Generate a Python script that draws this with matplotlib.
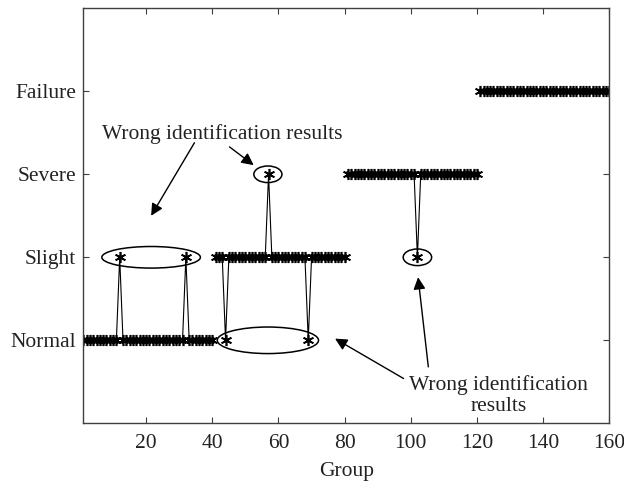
import numpy as np
import matplotlib.pyplot as plt
from matplotlib.patches import Ellipse

plt.rcParams['font.family'] = ['Liberation Serif', 'DejaVu Serif']

# fault levels and the group ranges that belong to each of them
levels = ['Normal', 'Slight', 'Severe', 'Failure']
level_values = [1, 2, 3, 4]
seg_start = [1, 41, 81, 121]
seg_end = [40, 80, 120, 160]

# misidentified groups and the level they were put in
wrong_groups = [12, 32, 44, 57, 69, 102]
wrong_levels = [2, 2, 1, 3, 1, 2]

# marks around the wrong results: centre x, centre y, width, height (data units)
ell_x = [21.5, 56.8, 56.8, 102.0]
ell_y = [2.0, 1.0, 3.0, 2.0]
ell_w = [29.8, 30.6, 8.5, 8.6]
ell_h = [0.26, 0.32, 0.2, 0.2]

groups = np.arange(1, 161)
result = np.zeros(160)
for s, e, v in zip(seg_start, seg_end, level_values):
    result[s - 1:e] = v
for g, v in zip(wrong_groups, wrong_levels):
    result[g - 1] = v

fig = plt.figure(figsize=(6.24, 4.84), dpi=100)
ax = fig.add_axes([0.1335, 0.1254, 0.8429, 0.8575])

# matlab style asterisk marker
for s, e in zip(seg_start, seg_end):
    ax.plot(groups[s - 1:e], result[s - 1:e], '-', marker=(6, 2, 0),
            color='black', lw=0.8, markersize=8, markeredgewidth=1.2)

for x, y, w, h in zip(ell_x, ell_y, ell_w, ell_h):
    ax.add_patch(Ellipse((x, y), w, h, fill=False, lw=1.1, ec='black'))

arrow = dict(arrowstyle='-|>', mutation_scale=18, lw=1.0, color='black',
             shrinkA=0, shrinkB=0)
ax.text(43, 3.49, 'Wrong identification results', ha='center', va='center',
        fontsize=15.5, color='#222222')
ax.annotate('', xy=(21.5, 2.5), xytext=(34.6, 3.38), arrowprops=arrow)
ax.annotate('', xy=(52.5, 3.11), xytext=(45.2, 3.33), arrowprops=arrow)

ax.text(126.5, 0.33, 'Wrong identification\nresults', ha='center', va='center',
        fontsize=15.5, color='#222222', linespacing=1.15)
ax.annotate('', xy=(77.1, 1.02), xytext=(97.8, 0.54), arrowprops=arrow)
ax.annotate('', xy=(102.2, 1.76), xytext=(105.3, 0.68), arrowprops=arrow)

ax.set_xlim(1, 160)
ax.set_ylim(0, 5)
ax.set_xticks(np.arange(20, 161, 20))
ax.set_yticks(level_values)
ax.set_yticklabels(levels)
ax.set_xlabel('Group', fontsize=15.5, color='#222222', labelpad=7)
ax.tick_params(direction='in', top=True, right=True, length=4,
               labelsize=15.5, labelcolor='#222222', color='#404040')
ax.tick_params(axis='x', pad=7.5)
ax.tick_params(axis='y', pad=5)
for sp in ax.spines.values():
    sp.set_color('#404040')
    sp.set_linewidth(1.0)

fig.savefig('out.png', dpi=100)
